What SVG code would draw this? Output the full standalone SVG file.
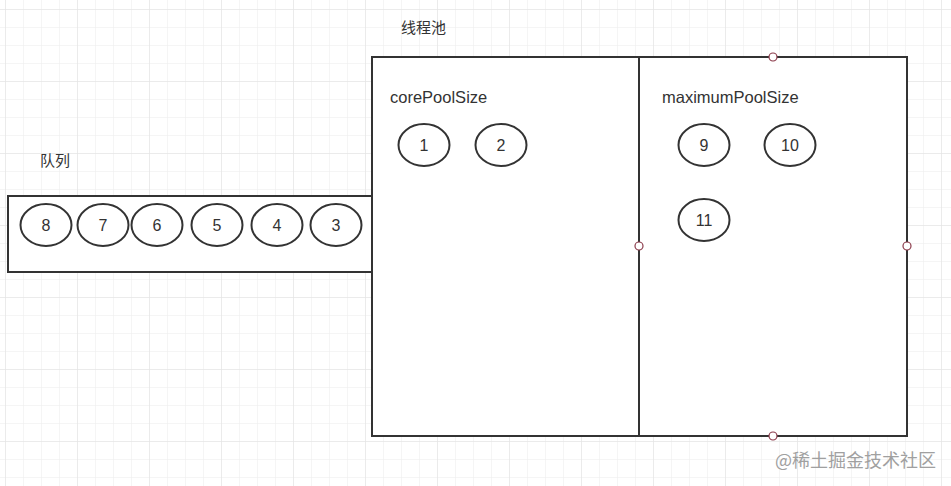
<svg xmlns="http://www.w3.org/2000/svg" width="951" height="486" viewBox="0 0 951 486">
<defs>
<pattern id="gminor" x="5" y="9" width="18" height="18" patternUnits="userSpaceOnUse">
<path d="M0 0H18M0 0V18" fill="none" stroke="#ececec" stroke-width="1"/>
</pattern>
<pattern id="gmajor" x="5" y="9" width="72" height="72" patternUnits="userSpaceOnUse">
<path d="M0 0H72M0 0V72" fill="none" stroke="#e2e2e2" stroke-width="1"/>
</pattern>
</defs>
<style>
.box{fill:#fff;stroke:#333;stroke-width:2}
.ell{fill:#fff;stroke:#333;stroke-width:2}
.num{font-family:"Liberation Sans","Noto Sans CJK SC",sans-serif;font-size:16px;fill:#333;text-anchor:middle}
.lbl{font-family:"Liberation Sans","Noto Sans CJK SC",sans-serif;font-size:16.5px;fill:#333}
.cjk{font-family:"Noto Sans CJK SC",sans-serif;font-size:15px;fill:#333}
.pt{fill:#fff;stroke:#8b3a4a;stroke-width:1.2}
.wm{font-family:"Noto Sans CJK SC",sans-serif;font-size:18px;fill:#a0a0a0}
</style>
<rect width="951" height="486" fill="#fff"/>
<rect width="951" height="486" fill="url(#gminor)"/>
<rect width="951" height="486" fill="url(#gmajor)"/>

<g id="title-pool"><text class="cjk" x="401" y="33">线程池</text></g>
<g id="title-queue"><text class="cjk" x="40" y="166">队列</text></g>

<g id="queue"><rect class="box" x="8" y="196" width="364" height="76"/></g>

<g id="pool">
<rect class="box" x="372" y="57" width="535" height="379"/>
<line x1="639" y1="57" x2="639" y2="436" stroke="#333" stroke-width="2"/>
<text class="lbl" x="390" y="103">corePoolSize</text>
<text class="lbl" x="662" y="103">maximumPoolSize</text>
<circle class="pt" cx="773" cy="57" r="4"/>
<circle class="pt" cx="639" cy="246" r="4"/>
<circle class="pt" cx="907" cy="246" r="4"/>
<circle class="pt" cx="773" cy="436" r="4"/>
</g>

<g id="t8"><ellipse class="ell" cx="46" cy="225" rx="25.5" ry="21"/><text class="num" x="46" y="231">8</text></g>
<g id="t7"><ellipse class="ell" cx="103" cy="225" rx="25.5" ry="21"/><text class="num" x="103" y="231">7</text></g>
<g id="t6"><ellipse class="ell" cx="157" cy="225" rx="25.5" ry="21"/><text class="num" x="157" y="231">6</text></g>
<g id="t5"><ellipse class="ell" cx="217" cy="225" rx="25.5" ry="21"/><text class="num" x="217" y="231">5</text></g>
<g id="t4"><ellipse class="ell" cx="277" cy="225" rx="25.5" ry="21"/><text class="num" x="277" y="231">4</text></g>
<g id="t3"><ellipse class="ell" cx="336" cy="225" rx="25.5" ry="21"/><text class="num" x="336" y="231">3</text></g>

<g id="t1"><ellipse class="ell" cx="424" cy="145" rx="25.5" ry="21"/><text class="num" x="424" y="151">1</text></g>
<g id="t2"><ellipse class="ell" cx="501" cy="145" rx="25.5" ry="21"/><text class="num" x="501" y="151">2</text></g>
<g id="t9"><ellipse class="ell" cx="704" cy="145" rx="25.5" ry="21"/><text class="num" x="704" y="151">9</text></g>
<g id="t10"><ellipse class="ell" cx="790" cy="145" rx="25.5" ry="21"/><text class="num" x="790" y="151">10</text></g>
<g id="t11"><ellipse class="ell" cx="704" cy="220" rx="25.5" ry="21"/><text class="num" x="704" y="226">11</text></g>

<g id="connectors"></g>

<g id="watermark"><text class="wm" x="775" y="467">@稀土掘金技术社区</text></g>
</svg>
